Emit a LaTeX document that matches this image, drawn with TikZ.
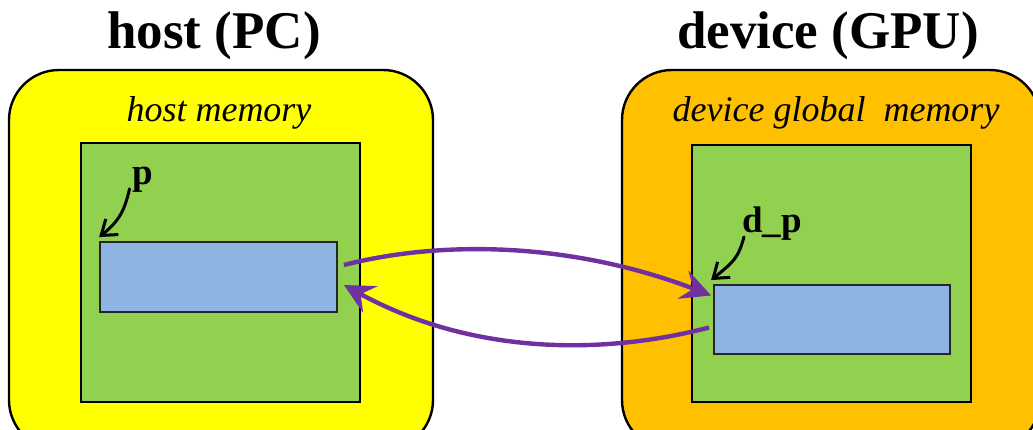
\documentclass[tikz,border=0pt]{standalone}
\usepackage{fontspec}
\setmainfont{Liberation Serif}
\usetikzlibrary{arrows.meta,calc}
\definecolor{hostyellow}{HTML}{FFFF00}
\definecolor{devorange}{HTML}{FFC000}
\definecolor{memgreen}{HTML}{92D050}
\definecolor{bufblue}{HTML}{8EB4E3}
\definecolor{xferpurple}{HTML}{7030A0}
\tikzset{
  side/.style={draw=black, line width=2.4pt, rounded corners=50pt, inner sep=0pt},
  mem/.style={draw=black, line width=2.2pt, fill=memgreen, inner sep=0pt},
  buf/.style={draw=black!85, line width=1.8pt, fill=bufblue, inner sep=0pt},
  title/.style={font=\fontsize{53}{60}\selectfont\bfseries, inner sep=0pt},
  memlabel/.style={font=\fontsize{36}{42}\selectfont\itshape, inner sep=0pt},
  ptrlabel/.style={font=\fontsize{37}{42}\selectfont\bfseries, inner sep=0pt},
  ptrarrow/.style={draw=black, line width=3pt, line cap=round, -{Straight Barb[length=14pt,width=20pt,line width=3pt]}},
  xfer/.style={draw=xferpurple, line width=4.4pt, -{Stealth[length=30pt,width=30pt,inset=11pt]}}
}
\begin{document}
\begin{tikzpicture}[x=1pt,y=-1pt]
\useasboundingbox (0,0) rectangle (1033,430);
\begin{scope}
\clip (0,0) rectangle (1033,430);
% host side
\node[side, fill=hostyellow, minimum width=424pt, minimum height=380pt] (host) at (221,260) {};
\node[mem, minimum width=279pt, minimum height=259pt] (hmem) at (220.5,272.5) {};
\node[buf, minimum width=237pt, minimum height=70pt] (hb) at (218.5,277) {};
% device side
\node[side, fill=devorange, minimum width=418pt, minimum height=380pt] (dev) at (831,260) {};
\node[mem, minimum width=279pt, minimum height=257pt] (dmem) at (831.5,273.5) {};
\node[buf, minimum width=236pt, minimum height=69pt] (db) at (832,319.5) {};
\end{scope}
% headings
\node[title] (ht) at (214,36) {host (PC)};
\node[title] (dt) at (828,36) {device (GPU)};
\node[memlabel] (hm) at (219,113) {host memory};
\node[memlabel] (dm) at (836,113) {device global\ \ memory};
% pointer names
\node[ptrlabel] (p) at (143,180) {p};
\node[ptrlabel] (dp) at (772,224) {d\_p};
\draw[ptrarrow] ($(p.south west)+(-3,-4)$) .. controls ($(p.south west)+(-8,18)$) and ($(hb.north west)+(20,-20)$) .. ($(hb.north west)+(0,-4)$);
\draw[ptrarrow] ($(dp.south west)+(2,-4)$) .. controls ($(dp.south west)+(-4,18)$) and ($(db.north west)+(20,-22)$) .. ($(db.north west)+(-2,-4)$);
% copies between host and device
\draw[xfer] ($(hb.east)+(6,-12)$) .. controls (450,238) and (580,245) .. ($(db.west)+(-2,-24)$);
\draw[xfer] ($(db.west)+(-4,8)$) .. controls (600,356) and (470,354) .. ($(hb.east)+(6,8)$);
\end{tikzpicture}
\end{document}
